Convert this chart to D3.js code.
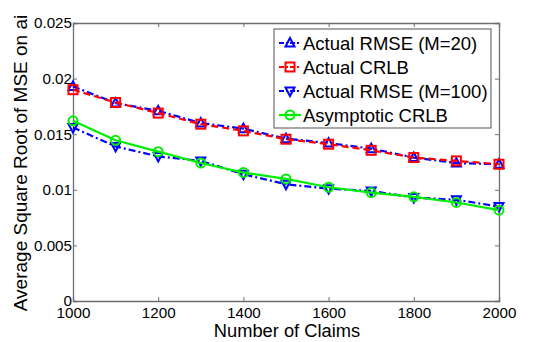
<!DOCTYPE html>
<html>
<head>
<meta charset="utf-8">
<script src="https://cdn.jsdelivr.net/npm/d3@7"></script>
<style>
  body { margin: 0; background: #fff; }
  text { font-family: "Liberation Sans", Arial, sans-serif; fill: #000; }
</style>
</head>
<body>
<div class="chart"></div>
<script>
let claims = [1000, 1100, 1200, 1300, 1400, 1500, 1600, 1700, 1800, 1900, 2000]
let rmseM20 = [0.0193, 0.0178, 0.0171, 0.0160, 0.0155, 0.0146, 0.0142, 0.0137, 0.0129, 0.0124, 0.0123]
let actualCrlb = [0.0190, 0.01785, 0.0169, 0.0159, 0.0153, 0.01455, 0.0141, 0.01355, 0.0129, 0.0126, 0.0123]
let rmseM100 = [0.0156, 0.0139, 0.0130, 0.0126, 0.0114, 0.0105, 0.0101, 0.0099, 0.0093, 0.0091, 0.0085]
let asymCrlb = [0.0162, 0.01445, 0.01343, 0.01241, 0.01155, 0.01098, 0.01023, 0.00975, 0.00937, 0.00886, 0.00817]
let xTicks = [1000, 1200, 1400, 1600, 1800, 2000]
let yTicks = [0, 0.005, 0.01, 0.015, 0.02, 0.025]
let yTickLabels = ["0", "0.005", "0.01", "0.015", "0.02", "0.025"]

let width = 547
let height = 342
let margin = {left: 73, right: 48, top: 23, bottom: 41}
let plotW = width - margin.left - margin.right
let plotH = height - margin.top - margin.bottom

let series = [
  {name: "Actual RMSE (M=20)", values: rmseM20, color: "#0000ff", dash: "7,3,2,3", marker: "up"},
  {name: "Actual CRLB", values: actualCrlb, color: "#ff0000", dash: "7,4", marker: "square"},
  {name: "Actual RMSE (M=100)", values: rmseM100, color: "#0000ff", dash: "7,3,2,3", marker: "down"},
  {name: "Asymptotic CRLB", values: asymCrlb, color: "#00ee00", dash: null, marker: "circle"}
]

let svg = d3.select(".chart")
  .append("svg")
  .attr("width", width)
  .attr("height", height)

let x = d3.scaleLinear().domain([1000, 2000]).range([0, plotW])
let y = d3.scaleLinear().domain([0, 0.025]).range([plotH, 0])

let g = svg.append("g").attr("transform", `translate(${margin.left},${margin.top})`)

// axes box with inward ticks
let axisColor = "#6e6e6e"
let bottomAxis = g.append("g").attr("transform", `translate(0,${plotH})`)
  .call(d3.axisBottom(x).tickValues(xTicks).tickSize(-4).tickPadding(6).tickFormat(d3.format("d")))
let topAxis = g.append("g")
  .call(d3.axisTop(x).tickValues(xTicks).tickSize(-4).tickFormat(""))
let leftAxis = g.append("g")
  .call(d3.axisLeft(y).tickValues(yTicks).tickSize(-4).tickPadding(1).tickFormat((d, i) => yTickLabels[i]))
let rightAxis = g.append("g").attr("transform", `translate(${plotW},0)`)
  .call(d3.axisRight(y).tickValues(yTicks).tickSize(-4).tickFormat(""))

;[bottomAxis, topAxis, leftAxis, rightAxis].forEach(a => {
  a.select(".domain").attr("stroke", axisColor).attr("stroke-width", 1.3)
  a.selectAll(".tick line").attr("stroke", axisColor)
  a.selectAll("text").style("font-size", "15.2px").attr("fill", "#000")
})

let line = d3.line()
  .x((d, i) => x(claims[i]))
  .y(d => y(d))

let drawMarker = (sel, type, color) => {
  if (type === "circle") {
    sel.append("circle").attr("r", 4.5)
      .attr("fill", "none").attr("stroke", color).attr("stroke-width", 2)
  } else if (type === "square") {
    sel.append("rect").attr("x", -4.5).attr("y", -4.5).attr("width", 9).attr("height", 9)
      .attr("fill", "none").attr("stroke", color).attr("stroke-width", 2)
  } else {
    let s = type === "up" ? 1 : -1
    sel.append("path").attr("d", `M0,${-5 * s}L4.5,${3.5 * s}L-4.5,${3.5 * s}Z`)
      .attr("fill", "none").attr("stroke", color).attr("stroke-width", 2)
  }
}

series.forEach(s => {
  g.append("path")
    .datum(s.values)
    .attr("d", line)
    .attr("fill", "none")
    .attr("stroke", s.color)
    .attr("stroke-width", 2.2)
    .attr("stroke-dasharray", s.dash)
  g.selectAll(null)
    .data(s.values)
    .enter()
    .append("g")
    .attr("transform", (d, i) => `translate(${x(claims[i])},${y(d)})`)
    .each(function () { drawMarker(d3.select(this), s.marker, s.color) })
})

// legend
let legend = svg.append("g").attr("transform", "translate(274,29)")
legend.append("rect")
  .attr("width", 217).attr("height", 99)
  .attr("fill", "#fff").attr("stroke", axisColor).attr("stroke-width", 1.2)

series.forEach((s, i) => {
  let row = legend.append("g").attr("transform", `translate(0,${14 + i * 24})`)
  row.append("line")
    .attr("x1", 5).attr("x2", 27).attr("y1", 0).attr("y2", 0)
    .attr("stroke", s.color).attr("stroke-width", 2.2)
    .attr("stroke-dasharray", s.dash ? "5,2,2,2" : null)
  let m = row.append("g").attr("transform", "translate(16,0)")
  drawMarker(m, s.marker, s.color)
  row.append("text")
    .attr("x", 29).attr("y", 0).attr("dy", "0.36em")
    .style("font-size", "18.5px")
    .text(s.name)
})

// axis labels
svg.append("text")
  .attr("x", margin.left + plotW / 2 + 1)
  .attr("y", 337)
  .attr("text-anchor", "middle")
  .style("font-size", "18.3px")
  .text("Number of Claims")

svg.append("text")
  .attr("transform", "translate(27,163) rotate(-90)")
  .attr("text-anchor", "middle")
  .style("font-size", "19px")
  .text("Average Square Root of MSE on ai")
</script>
</body>
</html>
